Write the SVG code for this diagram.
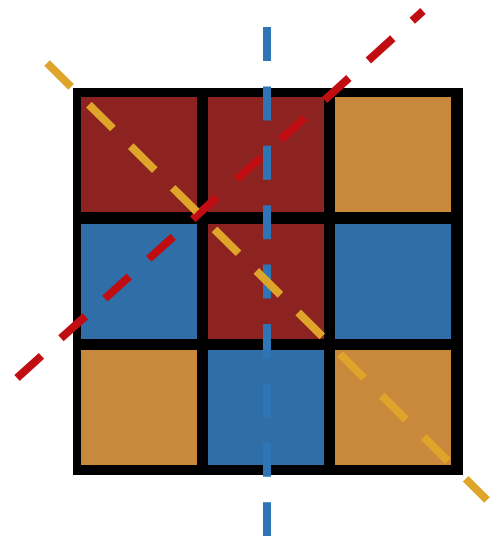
<svg xmlns="http://www.w3.org/2000/svg" width="491" height="536" viewBox="0 0 491 536">
  <style>
    .r { fill: #8c2321; }
    .b { fill: #2f6ea6; }
    .o { fill: #c8893d; }
    .axis { fill: none; stroke-width: 8; stroke-linecap: butt; }
  </style>
  <rect x="0" y="0" width="491" height="536" fill="#ffffff"/>
  <g id="board">
    <rect x="73" y="88" width="390" height="387" fill="#000000"/>
    <rect id="c11" class="r" x="81" y="97" width="116" height="115"/>
    <rect id="c12" class="r" x="208" y="97" width="116" height="115"/>
    <rect id="c13" class="o" x="335" y="97" width="116" height="115"/>
    <rect id="c21" class="b" x="81" y="224" width="116" height="115"/>
    <rect id="c22" class="r" x="208" y="224" width="116" height="115"/>
    <rect id="c23" class="b" x="335" y="224" width="116" height="115"/>
    <rect id="c31" class="o" x="81" y="350" width="116" height="115"/>
    <rect id="c32" class="b" x="208" y="350" width="116" height="115"/>
    <rect id="c33" class="o" x="335" y="350" width="116" height="115"/>
  </g>
  <g id="connectors">
    <line class="axis" x1="17" y1="378" x2="423" y2="11" stroke="#c00d12" stroke-dasharray="33 26.2"/>
    <line class="axis" x1="267" y1="27" x2="267" y2="536" stroke="#2e75b6" stroke-dasharray="34 25.4"/>
    <line class="axis" x1="47" y1="63" x2="487" y2="500" stroke="#dfa52a" stroke-dasharray="34 25"/>
  </g>
</svg>
